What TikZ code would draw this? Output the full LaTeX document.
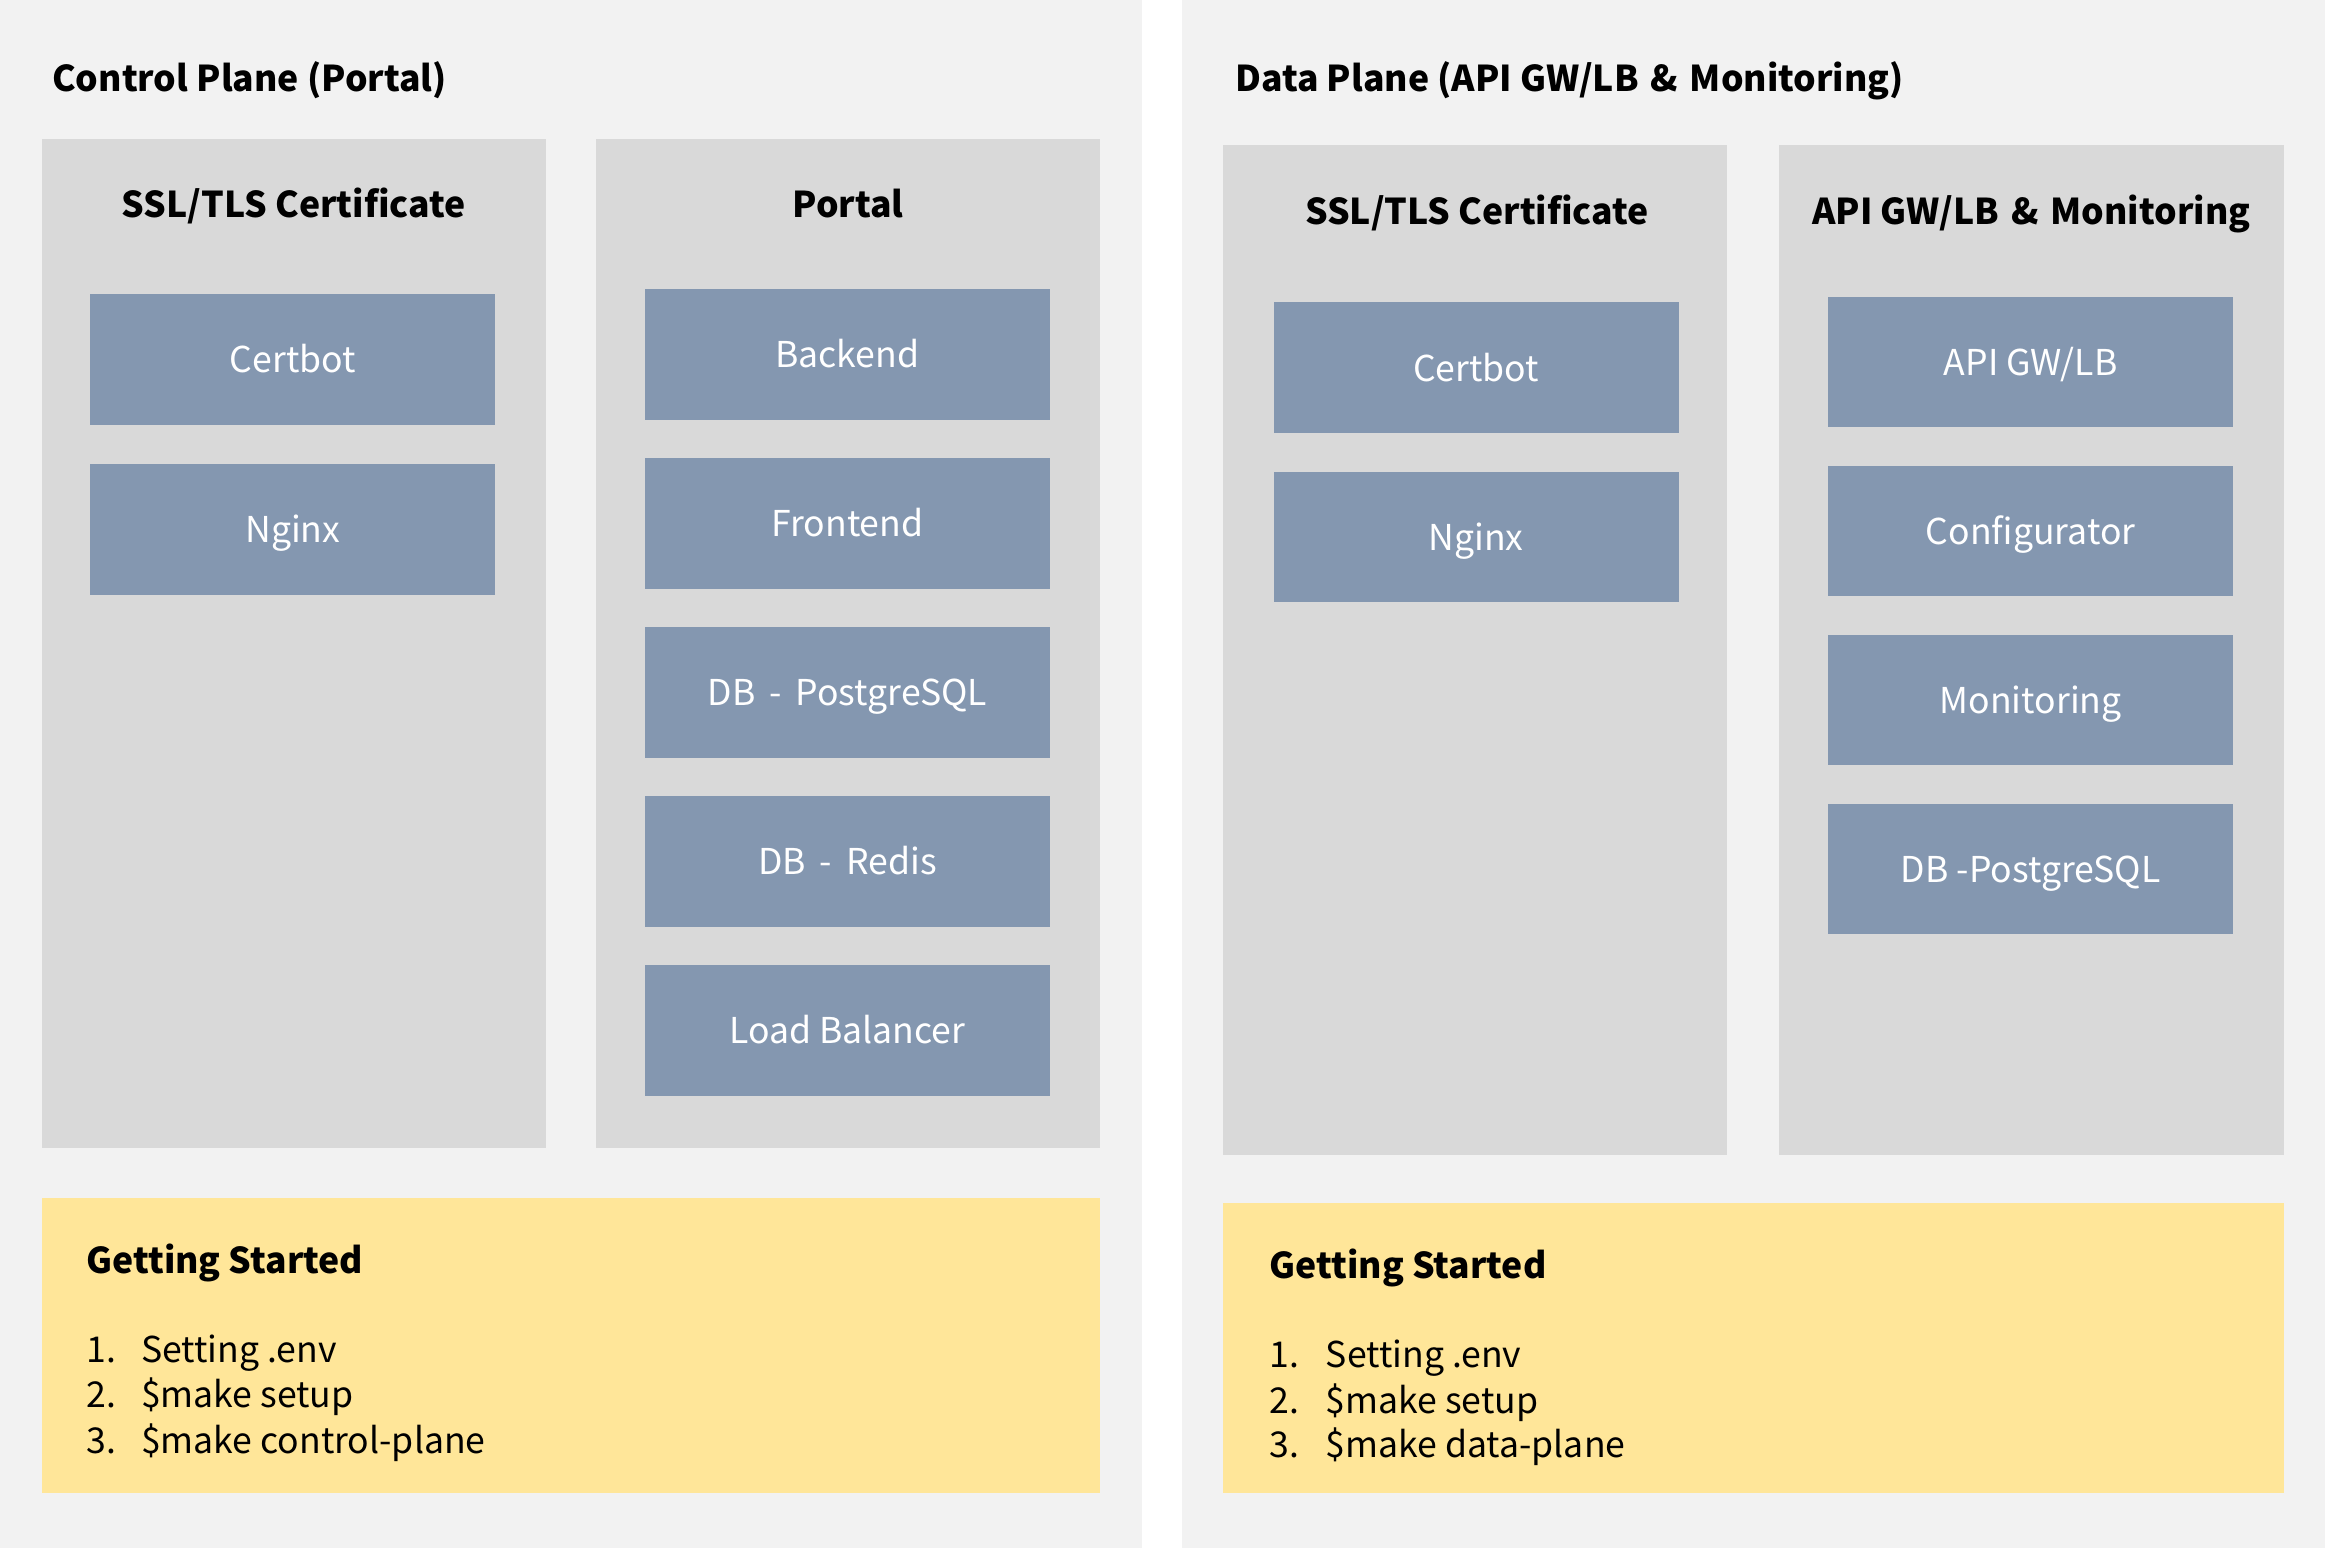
\documentclass[tikz,border=0pt]{standalone}
\usepackage{fontspec}
\setmainfont{Noto Sans CJK KR}
\definecolor{bggray}{HTML}{F2F2F2}
\definecolor{colgray}{HTML}{D9D9D9}
\definecolor{svcblue}{HTML}{8497B0}
\definecolor{noteyellow}{HTML}{FFE699}
\newcommand{\wamp}{\hspace{8pt}\&\hspace{8pt}}
\begin{document}
\begin{tikzpicture}[x=1pt,y=-1pt,
  colbox/.style={fill=colgray,draw=none,inner sep=0pt,outer sep=0pt,anchor=north west,minimum width=340pt,minimum height=680pt},
  svc/.style={fill=svcblue,draw=none,text=white,inner sep=0pt,outer sep=0pt,minimum width=273pt,minimum height=88pt,text height=18pt,text depth=0pt,font=\fontsize{24}{28}\selectfont},
  note/.style={fill=noteyellow,draw=none,inner sep=0pt,outer sep=0pt,anchor=north west,minimum width=714pt},
  ptitle/.style={anchor=base west,inner sep=0pt,font=\bfseries\fontsize{24}{28}\selectfont},
  ctitle/.style={anchor=base,inner sep=0pt,font=\bfseries\fontsize{24}{28}\selectfont},
  litem/.style={anchor=base west,inner sep=0pt,font=\fontsize{24}{28}\selectfont}]
\useasboundingbox (0,0) rectangle (1568,1044);
\fill[bggray] (0,0) rectangle (1568,1044);
\fill[white] (770,0) rectangle (797,1044);
% Left panel
\node[ptitle] (lt) at (35,62) {Control Plane (Portal)};
\node[colbox] (c1) at (28,94) {};
\node[colbox] (c2) at (402,94) {};
\node[ctitle] (c1t) at (198,146.5) {SSL/TLS Certificate};
\node[ctitle] (c2t) at (572,146.5) {Portal};
\node[svc] (lcert) at (197.5,242.5) {Certbot};
\node[svc] (lnginx) at (197.5,357) {Nginx};
\node[svc] (back) at (571.5,239) {Backend};
\node[svc] (front) at (571.5,353) {Frontend};
\node[svc] (pg) at (571.5,467) {DB \,-\, PostgreSQL};
\node[svc] (redis) at (571.5,581) {DB \,-\, Redis};
\node[svc] (lb) at (571.5,695) {Load Balancer};
\node[note,minimum height=199pt] (ln) at (28,808) {};
\node[ptitle] (lgs) at (58,859) {Getting Started};
\node[litem] (l1) at (58,919) {\makebox[37pt][l]{1.}Setting .env};
\node[litem] (l2) at (58,949.5) {\makebox[37pt][l]{2.}\$make setup};
\node[litem] (l3) at (58,980) {\makebox[37pt][l]{3.}\$make control-plane};
% Right panel
\node[ptitle] (rt) at (833,62) {Data Plane (API GW/LB\wamp Monitoring)};
\node[colbox,minimum height=681pt] (c3) at (825,98) {};
\node[colbox,minimum height=681pt] (c4) at (1200,98) {};
\node[ctitle] (c3t) at (996,151.5) {SSL/TLS Certificate};
\node[ctitle] (c4t) at (1370,151.5) {API GW/LB\wamp Monitoring};
\node[svc] (rcert) at (995.5,248) {Certbot};
\node[svc] (rnginx) at (995.5,362) {Nginx};
\node[svc] (gw) at (1369.5,244) {API GW/LB};
\node[svc] (conf) at (1369.5,358) {Configurator};
\node[svc] (mon) at (1369.5,472) {Monitoring};
\node[svc] (rpg) at (1369.5,586) {DB -PostgreSQL};
\node[note,minimum width=715pt,minimum height=196pt] (rn) at (825,811) {};
\node[ptitle] (rgs) at (856,862) {Getting Started};
\node[litem] (r1) at (856,922) {\makebox[38pt][l]{1.}Setting .env};
\node[litem] (r2) at (856,953) {\makebox[38pt][l]{2.}\$make setup};
\node[litem] (r3) at (856,983) {\makebox[38pt][l]{3.}\$make data-plane};
\end{tikzpicture}
\end{document}
